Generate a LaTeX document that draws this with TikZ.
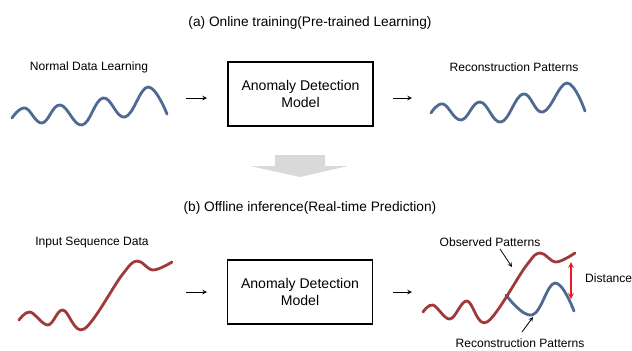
\documentclass[tikz,border=0pt]{standalone}
\usepackage{fontspec}
\setmainfont{Liberation Sans}
\usepackage{xcolor}
\usepackage{tikz}

\definecolor{waveblue}{HTML}{4F6A92}
\definecolor{wavered}{HTML}{A03A3A}
\definecolor{gapred}{HTML}{E8192C}
\definecolor{shadegray}{HTML}{D9D9D9}

\begin{document}
\begin{tikzpicture}[>=stealth,x=0.03cm,y=-0.03cm,
    heading/.style={font=\fontsize{11.7}{14}\selectfont},
    lbltext/.style={font=\fontsize{10.3}{12}\selectfont},
    model/.style={draw,line width=1.2pt,minimum width=4.35cm,minimum height=1.92cm,
      align=center,font=\fontsize{12}{14.5}\selectfont},
    flow/.style={->,line width=0.8pt},
    ptr/.style={->,line width=0.7pt},
    bluewave/.style={waveblue,line width=2.4pt,line cap=round,line join=round},
    redwave/.style={wavered,line width=2.4pt,line cap=round,line join=round}]
    \useasboundingbox (0,0) rectangle (632,350);

    % Titles
    \node[heading] (ta) at (310,23) {(a) Online training(Pre-trained Learning)};
    \node[heading] (tb) at (310,208) {(b) Offline inference(Real-time Prediction)};

    % Labels
    \node[lbltext] (normal) at (89,67) {Normal Data Learning};
    \node[lbltext] (recon) at (514,67) {Reconstruction Patterns};
    \node[lbltext] (input) at (92,243) {Input Sequence Data};
    \node[lbltext] (obs) at (490,242) {Observed Patterns};
    \node[lbltext,anchor=west,inner xsep=0pt] (dist) at (585,278) {Distance};
    \node[lbltext] (recon2) at (520,343) {Reconstruction Patterns};

    % Models
    \node[model] (ma) at (300.5,94) {Anomaly Detection\\Model};
    \node[model] (mb) at (300,292) {Anomaly Detection\\Model};

    % Arrow ends
    \coordinate (a1s) at (186,98);
    \coordinate (a1e) at (207,98);
    \coordinate (a2s) at (393,98);
    \coordinate (a2e) at (412,98);
    \coordinate (b1s) at (186,292);
    \coordinate (b1e) at (207,292);
    \coordinate (b2s) at (393,292);
    \coordinate (b2e) at (412,292);
    \coordinate (obsfrom) at (500,249);
    \coordinate (obsto) at (512,267);
    \coordinate (recfrom) at (522,332);
    \coordinate (recto) at (533,317);
    \coordinate (dtop) at (571,262);
    \coordinate (dbot) at (571,299);

    % Signals
    \draw[bluewave] plot[smooth,tension=0.7] coordinates {(12,118) (25,108) (42,123) (60,105)
      (82,125) (103,98) (125,117) (148,87) (167,114)};
    \draw[bluewave] plot[smooth,tension=0.7] coordinates {(431,113) (443,104) (461,120) (480,102)
      (501,122) (523,94) (543,112) (567,83) (585,111)};
    \draw[redwave] plot[smooth,tension=0.6] coordinates {(19,320) (30,312) (48,325) (63,310)
      (84,329) (122,275) (137,261) (153,270) (172,262)};
    \draw[bluewave] plot[smooth,tension=0.7] coordinates {(506,295) (532,315) (555,283) (574,311)};
    \draw[redwave] plot[smooth,tension=0.6] coordinates {(423,312) (433,305) (450,319) (467,301)
      (487,322) (526,266) (540,253) (556,262) (575,253)};

    % Block arrow
    \fill[shadegray] (275,155) -- (325,155) -- (325,166) -- (348,166) -- (300,177)
      -- (250,166) -- (275,166) -- cycle;

    % Arrows
    \draw[flow] (a1s) -- (a1e);
    \draw[flow] (a2s) -- (a2e);
    \draw[flow] (b1s) -- (b1e);
    \draw[flow] (b2s) -- (b2e);
    \draw[ptr] (obsfrom) -- (obsto);
    \draw[ptr] (recfrom) -- (recto);
    \draw[<->,gapred,line width=1.2pt] (dtop) -- (dbot);
\end{tikzpicture}
\end{document}
